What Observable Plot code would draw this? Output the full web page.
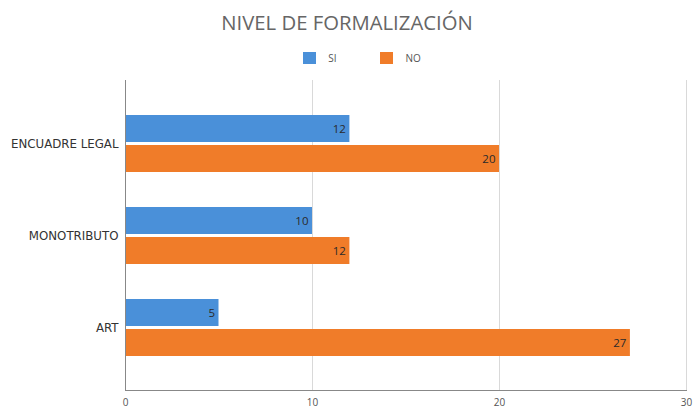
<!DOCTYPE html>
<html>
<head>
<meta charset="utf-8">
<script src="https://cdn.jsdelivr.net/npm/d3@7"></script>
<script src="https://cdn.jsdelivr.net/npm/@observablehq/plot@0.6"></script>
<style>
  html, body { margin: 0; padding: 0; background: #fff; width: 694px; height: 408px; overflow: hidden; font-family: "Open Sans", sans-serif; }
  #title { height: 44px; line-height: 44px; text-align: center; font-size: 20.3px; color: #666; }
  #legend { height: 28px; display: flex; justify-content: center; align-items: center; font-size: 10px; color: #555; padding-left: 30px; box-sizing: border-box; }
  .sw { width: 13px; height: 12px; display: inline-block; margin-right: 12px; }
  .item { display: flex; align-items: center; margin: 0 22px; }
</style>
</head>
<body>
<div id="title">NIVEL DE FORMALIZACIÓN</div>
<div id="legend"></div>
<div id="chart"></div>
<script>
const categories = ["ENCUADRE LEGAL", "MONOTRIBUTO", "ART"];
const series = ["SI", "NO"];
const siValues = [12, 10, 5];
const noValues = [20, 12, 27];
const xTicks = [0, 10, 20, 30];
const colors = ["#4a90d9", "#f07c29"];

const data = [];
categories.forEach((c, i) => {
  data.push({category: c, series: "SI", value: siValues[i]});
  data.push({category: c, series: "NO", value: noValues[i]});
});
const si = data.filter(d => d.series === "SI");
const no = data.filter(d => d.series === "NO");

const legend = document.getElementById("legend");
series.forEach((s, i) => {
  const it = document.createElement("div");
  it.className = "item";
  it.innerHTML = `<span class="sw" style="background:${colors[i]}"></span><span>${s}</span>`;
  legend.appendChild(it);
});

const chart = Plot.plot({
  width: 694,
  height: 336,
  marginLeft: 125,
  marginRight: 8,
  marginTop: 8,
  marginBottom: 18,
  style: {fontFamily: "Open Sans, sans-serif", background: "#fff"},
  x: {domain: [0, 30], ticks: xTicks, tickSize: 0, tickPadding: 8, label: null},
  y: {domain: categories, paddingInner: 0.385, paddingOuter: 0.36, label: null, tickSize: 0, tickPadding: 7},
  marks: [
    Plot.gridX(xTicks.filter(t => t > 0), {stroke: "#d9d9d9", strokeOpacity: 1}),
    Plot.barX(si, {x: "value", y: "category", fill: colors[0], insetBottom: 30}),
    Plot.barX(no, {x: "value", y: "category", fill: colors[1], insetTop: 30}),
    Plot.text(si, {x: "value", y: "category", text: d => String(d.value), textAnchor: "end", dx: -4, dy: -15, fill: "#2a2a2a", fontSize: 11.5}),
    Plot.text(no, {x: "value", y: "category", text: d => String(d.value), textAnchor: "end", dx: -4, dy: 15, fill: "#2a2a2a", fontSize: 11.5}),
    Plot.axisY({tickSize: 0, tickPadding: 7, fontSize: 11.8, fontFamily: "DejaVu Sans, sans-serif", fill: "#333", label: null}),
    Plot.axisX({ticks: xTicks, tickSize: 0, tickPadding: 8, fontSize: 10, fill: "#555", label: null}),
    Plot.ruleX([0], {stroke: "#888"}),
    Plot.frame({anchor: "bottom", stroke: "#888"})
  ]
});
document.getElementById("chart").appendChild(chart);
</script>
</body>
</html>
